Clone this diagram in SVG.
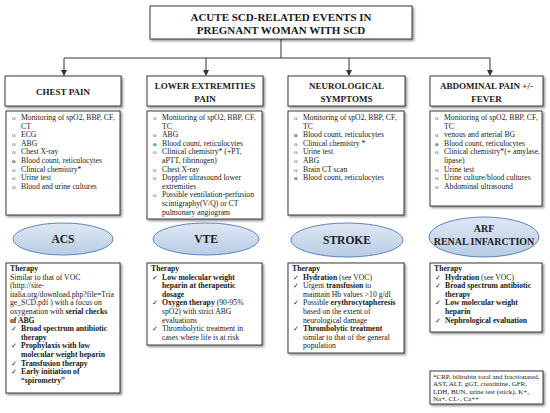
<svg xmlns="http://www.w3.org/2000/svg" width="550" height="413" viewBox="0 0 550 413">
<defs>
<filter id="sh" x="-10%" y="-10%" width="130%" height="130%"><feDropShadow dx="1.5" dy="1.5" stdDeviation="1" flood-color="#000" flood-opacity="0.45"/></filter>
<linearGradient id="og" x1="0" y1="0" x2="0" y2="1"><stop offset="0" stop-color="#dfe8f4"/><stop offset="1" stop-color="#b8cce4"/></linearGradient>
<marker id="ar" markerWidth="6" markerHeight="6" refX="5" refY="3" orient="auto" markerUnits="userSpaceOnUse"><path d="M0,0 L6,3 L0,6 Z" fill="#333"/></marker>
<style>
.box{fill:#fff;stroke:#3a3a3a;stroke-width:1;filter:url(#sh)}
.ov{fill:url(#og);stroke:#5b86bd;stroke-width:1}
text{font-family:"Liberation Serif","Times New Roman",serif;fill:#1a1a1a}
.t{font-size:7.7px}
.fn{font-size:7px}
.b{font-weight:bold}
.h{font-size:9px;font-weight:bold;text-anchor:middle}
.ti{font-size:11px;font-weight:bold;text-anchor:middle}
.ot{font-size:11.5px;font-weight:bold;text-anchor:middle}
.ck{font-family:"DejaVu Sans",sans-serif;font-size:6.5px}
.bu text{font-size:7px;fill:#555}
.con{fill:none;stroke:#333;stroke-width:1}
</style>
</defs>
<rect width="550" height="413" fill="#fff"/>

<g id="connectors">
<path class="con" d="M281,39 V58 M64,58 H490"/>
<path class="con" d="M64,58 V75" marker-end="url(#ar)"/>
<path class="con" d="M206,58 V75" marker-end="url(#ar)"/>
<path class="con" d="M349,58 V75" marker-end="url(#ar)"/>
<path class="con" d="M490,58 V75" marker-end="url(#ar)"/>
</g>

<g id="title">
<rect class="box" x="150" y="6" width="262" height="33"/>
<text class="ti" x="281" y="20.5">ACUTE SCD-RELATED EVENTS IN</text>
<text class="ti" x="281" y="34">PREGNANT WOMAN WITH  SCD</text>
</g>

<g id="h-chest">
<rect class="box" x="5" y="76" width="116" height="30"/>
<text class="h" x="63" y="94.5">CHEST PAIN</text>
</g>
<g id="h-lower">
<rect class="box" x="147" y="76" width="116" height="30"/>
<text class="h" x="205" y="88.5">LOWER EXTREMITIES</text>
<text class="h" x="205" y="101.5">PAIN</text>
</g>
<g id="h-neuro">
<rect class="box" x="288" y="76" width="117" height="30"/>
<text class="h" x="346.5" y="88.5">NEUROLOGICAL</text>
<text class="h" x="346.5" y="101.5">SYMPTOMS</text>
</g>
<g id="h-abd">
<rect class="box" x="430" y="76" width="113" height="30"/>
<text class="h" x="486.5" y="88.5">ABDOMINAL PAIN +/-</text>
<text class="h" x="486.5" y="101.5">FEVER</text>
</g>

<g id="l-chest">
<rect class="box" x="6" y="111" width="114" height="104"/>
<g class="bu"><text x="12" y="120">o</text><text x="12" y="137.2">o</text><text x="12" y="145.8">o</text><text x="12" y="154.4">o</text><text x="12" y="163" class="b">o</text><text x="12" y="171.6">o</text><text x="12" y="180.2">o</text><text x="12" y="188.8">o</text></g>
<text class="t" x="21" y="120">Monitoring of spO2, BBP, CF,</text>
<text class="t" x="21" y="128.6">CT</text>
<text class="t" x="21" y="137.2">ECG</text>
<text class="t" x="21" y="145.8">ABG</text>
<text class="t" x="21" y="154.4">Chest  X-ray</text>
<text class="t" x="21" y="163">Blood count, reticulocytes</text>
<text class="t" x="21" y="171.6">Clinical chemistry*</text>
<text class="t" x="21" y="180.2">Urine test</text>
<text class="t" x="21" y="188.8">Blood and urine cultures</text>
</g>

<g id="l-lower">
<rect class="box" x="147" y="111" width="115" height="108"/>
<g class="bu"><text x="153" y="120">o</text><text x="153" y="137.2">o</text><text x="153" y="145.8" class="b">o</text><text x="153" y="154.4">o</text><text x="153" y="171.6">o</text><text x="153" y="180.2">o</text><text x="153" y="197.4">o</text></g>
<text class="t" x="162" y="120">Monitoring of spO2, BBP, CF,</text>
<text class="t" x="162" y="128.6">TC</text>
<text class="t" x="162" y="137.2">ABG</text>
<text class="t" x="162" y="145.8">Blood count, reticulocytes</text>
<text class="t" x="162" y="154.4">Clinical chemistry* (+PT,</text>
<text class="t" x="162" y="163">aPTT, fibrinogen)</text>
<text class="t" x="162" y="171.6">Chest X-ray</text>
<text class="t" x="162" y="180.2">Doppler ultrasound lower</text>
<text class="t" x="162" y="188.8">extremities</text>
<text class="t" x="162" y="197.4">Possible ventilation-perfusion</text>
<text class="t" x="162" y="206">scintigraphy(V/Q) or CT</text>
<text class="t" x="162" y="214.6">pulmonary angiogram</text>
</g>

<g id="l-neuro">
<rect class="box" x="288" y="111" width="116" height="104"/>
<g class="bu"><text x="294" y="120">o</text><text x="294" y="137.2" class="b">o</text><text x="294" y="145.8">o</text><text x="294" y="154.4">o</text><text x="294" y="163">o</text><text x="294" y="171.6">o</text><text x="294" y="180.2" class="b">o</text></g>
<text class="t" x="303" y="120">Monitoring of spO2, BBP, CF,</text>
<text class="t" x="303" y="128.6">TC</text>
<text class="t" x="303" y="137.2">Blood count, reticulocytes</text>
<text class="t" x="303" y="145.8">Clinical chemistry *</text>
<text class="t" x="303" y="154.4">Urine test</text>
<text class="t" x="303" y="163">ABG</text>
<text class="t" x="303" y="171.6">Brain CT scan</text>
<text class="t" x="303" y="180.2">Blood count, reticulocytes</text>
</g>

<g id="l-abd">
<rect class="box" x="430" y="111" width="112" height="95"/>
<g class="bu"><text x="435" y="120">o</text><text x="435" y="137.2">o</text><text x="435" y="145.8" class="b">o</text><text x="435" y="154.4">o</text><text x="435" y="171.6">o</text><text x="435" y="180.2">o</text><text x="435" y="188.8">o</text></g>
<text class="t" x="444" y="120">Monitoring of spO2, BBP, CF,</text>
<text class="t" x="444" y="128.6">TC</text>
<text class="t" x="444" y="137.2">venous and arterial BG</text>
<text class="t" x="444" y="145.8">Blood count, reticulocytes</text>
<text class="t" x="444" y="154.4" textLength="96" lengthAdjust="spacingAndGlyphs">Clinical chemistry*(+ amylase,</text>
<text class="t" x="444" y="163">lipase)</text>
<text class="t" x="444" y="171.6">Urine test</text>
<text class="t" x="444" y="180.2">Urine culture/blood cultures</text>
<text class="t" x="444" y="188.8">Abdominal ultrasound</text>
</g>

<g id="o-acs"><ellipse class="ov" cx="63" cy="239" rx="50" ry="16"/><text class="ot" x="63" y="243">ACS</text></g>
<g id="o-vte"><ellipse class="ov" cx="206" cy="239" rx="53" ry="16"/><text class="ot" x="206" y="243">VTE</text></g>
<g id="o-stroke"><ellipse class="ov" cx="347" cy="240" rx="56" ry="17"/><text class="ot" x="347" y="244">STROKE</text></g>
<g id="o-arf"><ellipse class="ov" cx="484" cy="237" rx="55" ry="20"/><text class="ot" x="484" y="232" style="font-size:10px">ARF</text><text class="ot" x="484" y="245" style="font-size:10px">RENAL INFARCTION</text></g>

<g id="t-chest">
<rect class="box" x="6" y="263" width="114" height="130"/>
<text class="t b" x="10" y="271">Therapy</text>
<text class="t" x="10" y="279.6">Similar to that of VOC</text>
<text class="t" x="10" y="288.2">(http://site-</text>
<text class="t" x="10" y="296.8">italia.org/download.php?file=Tria</text>
<text class="t" x="10" y="305.4">ge_SCD.pdf ) with a focus on</text>
<text class="t" x="10" y="314">oxygenation with <tspan class="b">serial checks</tspan></text>
<text class="t b" x="10" y="322.6">of ABG</text>
<g class="ck"><text x="11" y="331.2">✓</text><text x="11" y="348.4">✓</text><text x="11" y="365.6">✓</text><text x="11" y="374.2">✓</text></g>
<text class="t b" x="21" y="331.2">Broad spectrum antibiotic</text>
<text class="t b" x="21" y="339.8">therapy</text>
<text class="t b" x="21" y="348.4">Prophylaxis with low</text>
<text class="t b" x="21" y="357">molecular weight heparin</text>
<text class="t b" x="21" y="365.6">Transfusion therapy</text>
<text class="t b" x="21" y="374.2">Early initiation of</text>
<text class="t b" x="21" y="382.8">“spirometry”</text>
</g>

<g id="t-lower">
<rect class="box" x="147" y="263" width="115" height="82"/>
<text class="t b" x="151" y="271">Therapy</text>
<g class="ck"><text x="152" y="279.6">✓</text><text x="152" y="305.4">✓</text><text x="152" y="331.2">✓</text></g>
<text class="t b" x="162" y="279.6">Low molecular weight</text>
<text class="t b" x="162" y="288.2">heparin at therapeutic</text>
<text class="t b" x="162" y="296.8">dosage</text>
<text class="t" x="162" y="305.4"><tspan class="b">Oxygen therapy</tspan> (90-95%</text>
<text class="t" x="162" y="314">spO2) with strict ABG</text>
<text class="t" x="162" y="322.6">evaluations</text>
<text class="t" x="162" y="331.2">Thrombolytic treatment in</text>
<text class="t" x="162" y="339.8">cases where life is at risk</text>
</g>

<g id="t-neuro">
<rect class="box" x="288" y="263" width="116" height="90"/>
<text class="t b" x="292" y="271">Therapy</text>
<g class="ck"><text x="293" y="279.6">✓</text><text x="293" y="288.2">✓</text><text x="293" y="305.4">✓</text><text x="293" y="331.2">✓</text></g>
<text class="t" x="303" y="279.6"><tspan class="b">Hydration</tspan> (see VOC)</text>
<text class="t" x="303" y="288.2">Urgent <tspan class="b">transfusion</tspan> to</text>
<text class="t" x="303" y="296.8">maintain Hb values &gt;10 g/dl</text>
<text class="t" x="303" y="305.4">Possible <tspan class="b">erythrocytapheresis</tspan></text>
<text class="t" x="303" y="314">based on the extent of</text>
<text class="t" x="303" y="322.6">neurological damage</text>
<text class="t b" x="303" y="331.2">Thrombolytic treatment</text>
<text class="t" x="303" y="339.8">similar to that of the general</text>
<text class="t" x="303" y="348.4">population</text>
</g>

<g id="t-abd">
<rect class="box" x="430" y="263" width="112" height="69"/>
<text class="t b" x="434" y="271">Therapy</text>
<g class="ck"><text x="435" y="279.6">✓</text><text x="435" y="288.2">✓</text><text x="435" y="305.4">✓</text><text x="435" y="322.6">✓</text></g>
<text class="t" x="445" y="279.6"><tspan class="b">Hydration</tspan> (see VOC)</text>
<text class="t b" x="445" y="288.2">Broad spectrum antibiotic</text>
<text class="t b" x="445" y="296.8">therapy</text>
<text class="t b" x="445" y="305.4">Low molecular weight</text>
<text class="t b" x="445" y="314">heparin</text>
<text class="t b" x="445" y="322.6">Nephrological evaluation</text>
</g>

<g id="footnote">
<rect class="box" x="430" y="371" width="113" height="33"/>
<text class="fn" x="433" y="378.5">*CRP, bilirubin total and fractionated,</text>
<text class="fn" x="433" y="386">AST, ALT, gGT, creatinine, GFR,</text>
<text class="fn" x="433" y="393.5">LDH, BUN, urine test (stick), K+,</text>
<text class="fn" x="433" y="401">Na+, CL-, Ca++</text>
</g>
</svg>
